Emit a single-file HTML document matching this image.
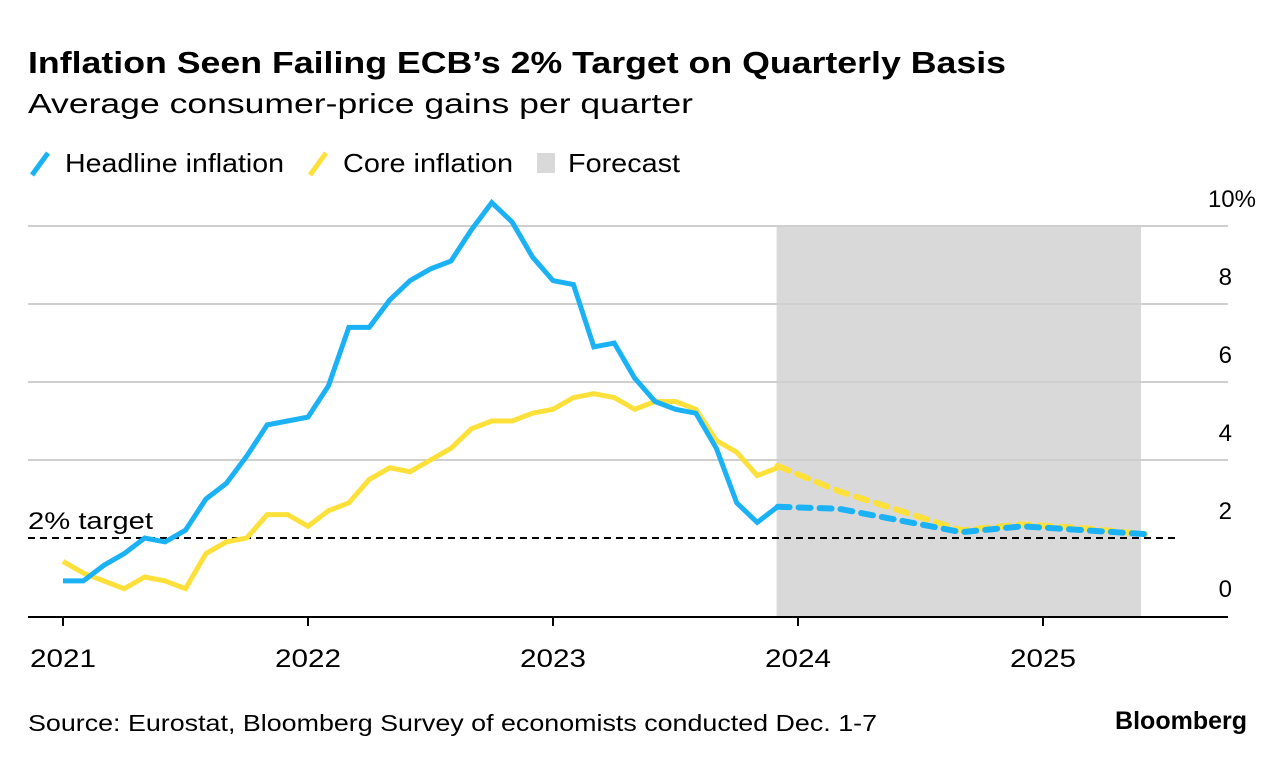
<!DOCTYPE html>
<html><head><meta charset="utf-8"><style>
body{margin:0;background:#fff;font-family:"Liberation Sans",sans-serif;}
svg text{font-family:"Liberation Sans",sans-serif;}
</style></head><body>
<svg id="chart" width="1285" height="764" xmlns="http://www.w3.org/2000/svg">
<text x="28" y="73" font-size="31" font-weight="bold" fill="#000" textLength="978" lengthAdjust="spacingAndGlyphs">Inflation Seen Failing ECB’s 2% Target on Quarterly Basis</text>
<text x="28" y="113" font-size="28" fill="#000" textLength="665" lengthAdjust="spacingAndGlyphs">Average consumer-price gains per quarter</text>
<g>
<g><line x1="32" y1="175" x2="48" y2="153" stroke="#1ab2f5" stroke-width="5"/><text x="65" y="172" font-size="26" textLength="219" lengthAdjust="spacingAndGlyphs">Headline inflation</text></g>
<g><line x1="310" y1="175" x2="326" y2="153" stroke="#fde03a" stroke-width="5"/><text x="343" y="172" font-size="26" textLength="170" lengthAdjust="spacingAndGlyphs">Core inflation</text></g>
<g><rect x="537" y="153" width="18" height="20" fill="#d9d9d9"/><text x="568" y="172" font-size="26" textLength="112" lengthAdjust="spacingAndGlyphs">Forecast</text></g>
</g>
<g id="plot"></g>
<text x="28" y="731" font-size="23" fill="#000" textLength="849" lengthAdjust="spacingAndGlyphs">Source: Eurostat, Bloomberg Survey of economists conducted Dec. 1-7</text>
<text x="1247" y="729" font-size="25" font-weight="bold" text-anchor="end" fill="#000">Bloomberg</text>
</svg>
<script>
const yTicks=[0,2,4,6,8,10];
const yTickLabels=["0","2","4","6","8","10%"];
const xYears=[2021,2022,2023,2024,2025];
const headline=[0.9,0.9,1.3,1.6,2.0,1.9,2.2,3.0,3.4,4.1,4.9,5.0,5.1,5.9,7.4,7.4,8.1,8.6,8.9,9.1,9.9,10.6,10.1,9.2,8.6,8.5,6.9,7.0,6.1,5.5,5.3,5.2,4.3,2.9,2.4,2.8];
const core=[1.4,1.1,0.9,0.7,1.0,0.9,0.7,1.6,1.9,2.0,2.6,2.6,2.3,2.7,2.9,3.5,3.8,3.7,4.0,4.3,4.8,5.0,5.0,5.2,5.3,5.6,5.7,5.6,5.3,5.5,5.5,5.3,4.5,4.2,3.6,3.8];
const fcMonths=[35,38,41,44,47,50,53];
const headlineFc=[2.8,2.75,2.45,2.15,2.3,2.2,2.1];
const coreFc=[3.85,3.2,2.7,2.2,2.35,2.25,2.1];
const target=2;
const forecastStart=35, forecastEnd=52.8;

const NS="http://www.w3.org/2000/svg";
const plot=document.getElementById('plot');
const x=m=>63+m*245/12;
const y=v=>616-v*39;
function mk(tag,attrs,parent){const e=document.createElementNS(NS,tag);for(const k in attrs)e.setAttribute(k,attrs[k]);(parent||plot).appendChild(e);return e;}

const sh=mk('rect',{x:x(forecastStart)-1,y:y(10),width:x(forecastEnd)-x(forecastStart)+1,height:y(0)-y(10),fill:'#d9d9d9'});



yTicks.forEach((t,i)=>{
  if(t!==0&&t!==target){const g=mk('line',{x1:28,x2:1228,y1:y(t),y2:y(t),stroke:'#cfcfcf','stroke-width':2});
  
  }
  const lb=mk('text',{x:1232,y:y(t)-19,'font-size':24,'text-anchor':'end'});
  lb.textContent=yTickLabels[i];
  if(yTickLabels[i].includes('%'))lb.setAttribute('x',1256);
  
  
});
const ax=mk('line',{x1:28,x2:1228,y1:y(0)+1,y2:y(0)+1,stroke:'#000','stroke-width':2});


xYears.forEach((yr,i)=>{
  const xx=x(i*12);
  const tk=mk('line',{x1:xx,x2:xx,y1:y(0),y2:y(0)+10,stroke:'#000','stroke-width':2});
  
  
  const lb=mk('text',{x:xx,y:667,'font-size':25,'text-anchor':'middle',textLength:66,lengthAdjust:'spacingAndGlyphs'});
  lb.textContent=yr;
  
  
});
const tl=mk('line',{x1:28,x2:1175,y1:y(target),y2:y(target),stroke:'#000','stroke-width':2,'stroke-dasharray':'7,5'});


const tt=mk('text',{x:28,y:y(target)-9,'font-size':24,textLength:125,lengthAdjust:'spacingAndGlyphs'});
tt.textContent='2% target';



function pts(ms,vs){return vs.map((v,i)=>x(ms[i])+','+y(v)).join(' ');}
const months=headline.map((_,i)=>i);
const cf=mk('polyline',{points:pts(fcMonths,coreFc),fill:'none',stroke:'#fde03a','stroke-width':6,'stroke-dasharray':'12,9','stroke-linecap':'round'});


const hf=mk('polyline',{points:pts(fcMonths,headlineFc),fill:'none',stroke:'#1ab2f5','stroke-width':6,'stroke-dasharray':'12,9','stroke-linecap':'round'});


const cl=mk('polyline',{points:pts(months,core),fill:'none',stroke:'#fde03a','stroke-width':5,'stroke-linejoin':'miter'});


const hl=mk('polyline',{points:pts(months,headline),fill:'none',stroke:'#1ab2f5','stroke-width':5,'stroke-linejoin':'miter'});


</script>
</body></html>
